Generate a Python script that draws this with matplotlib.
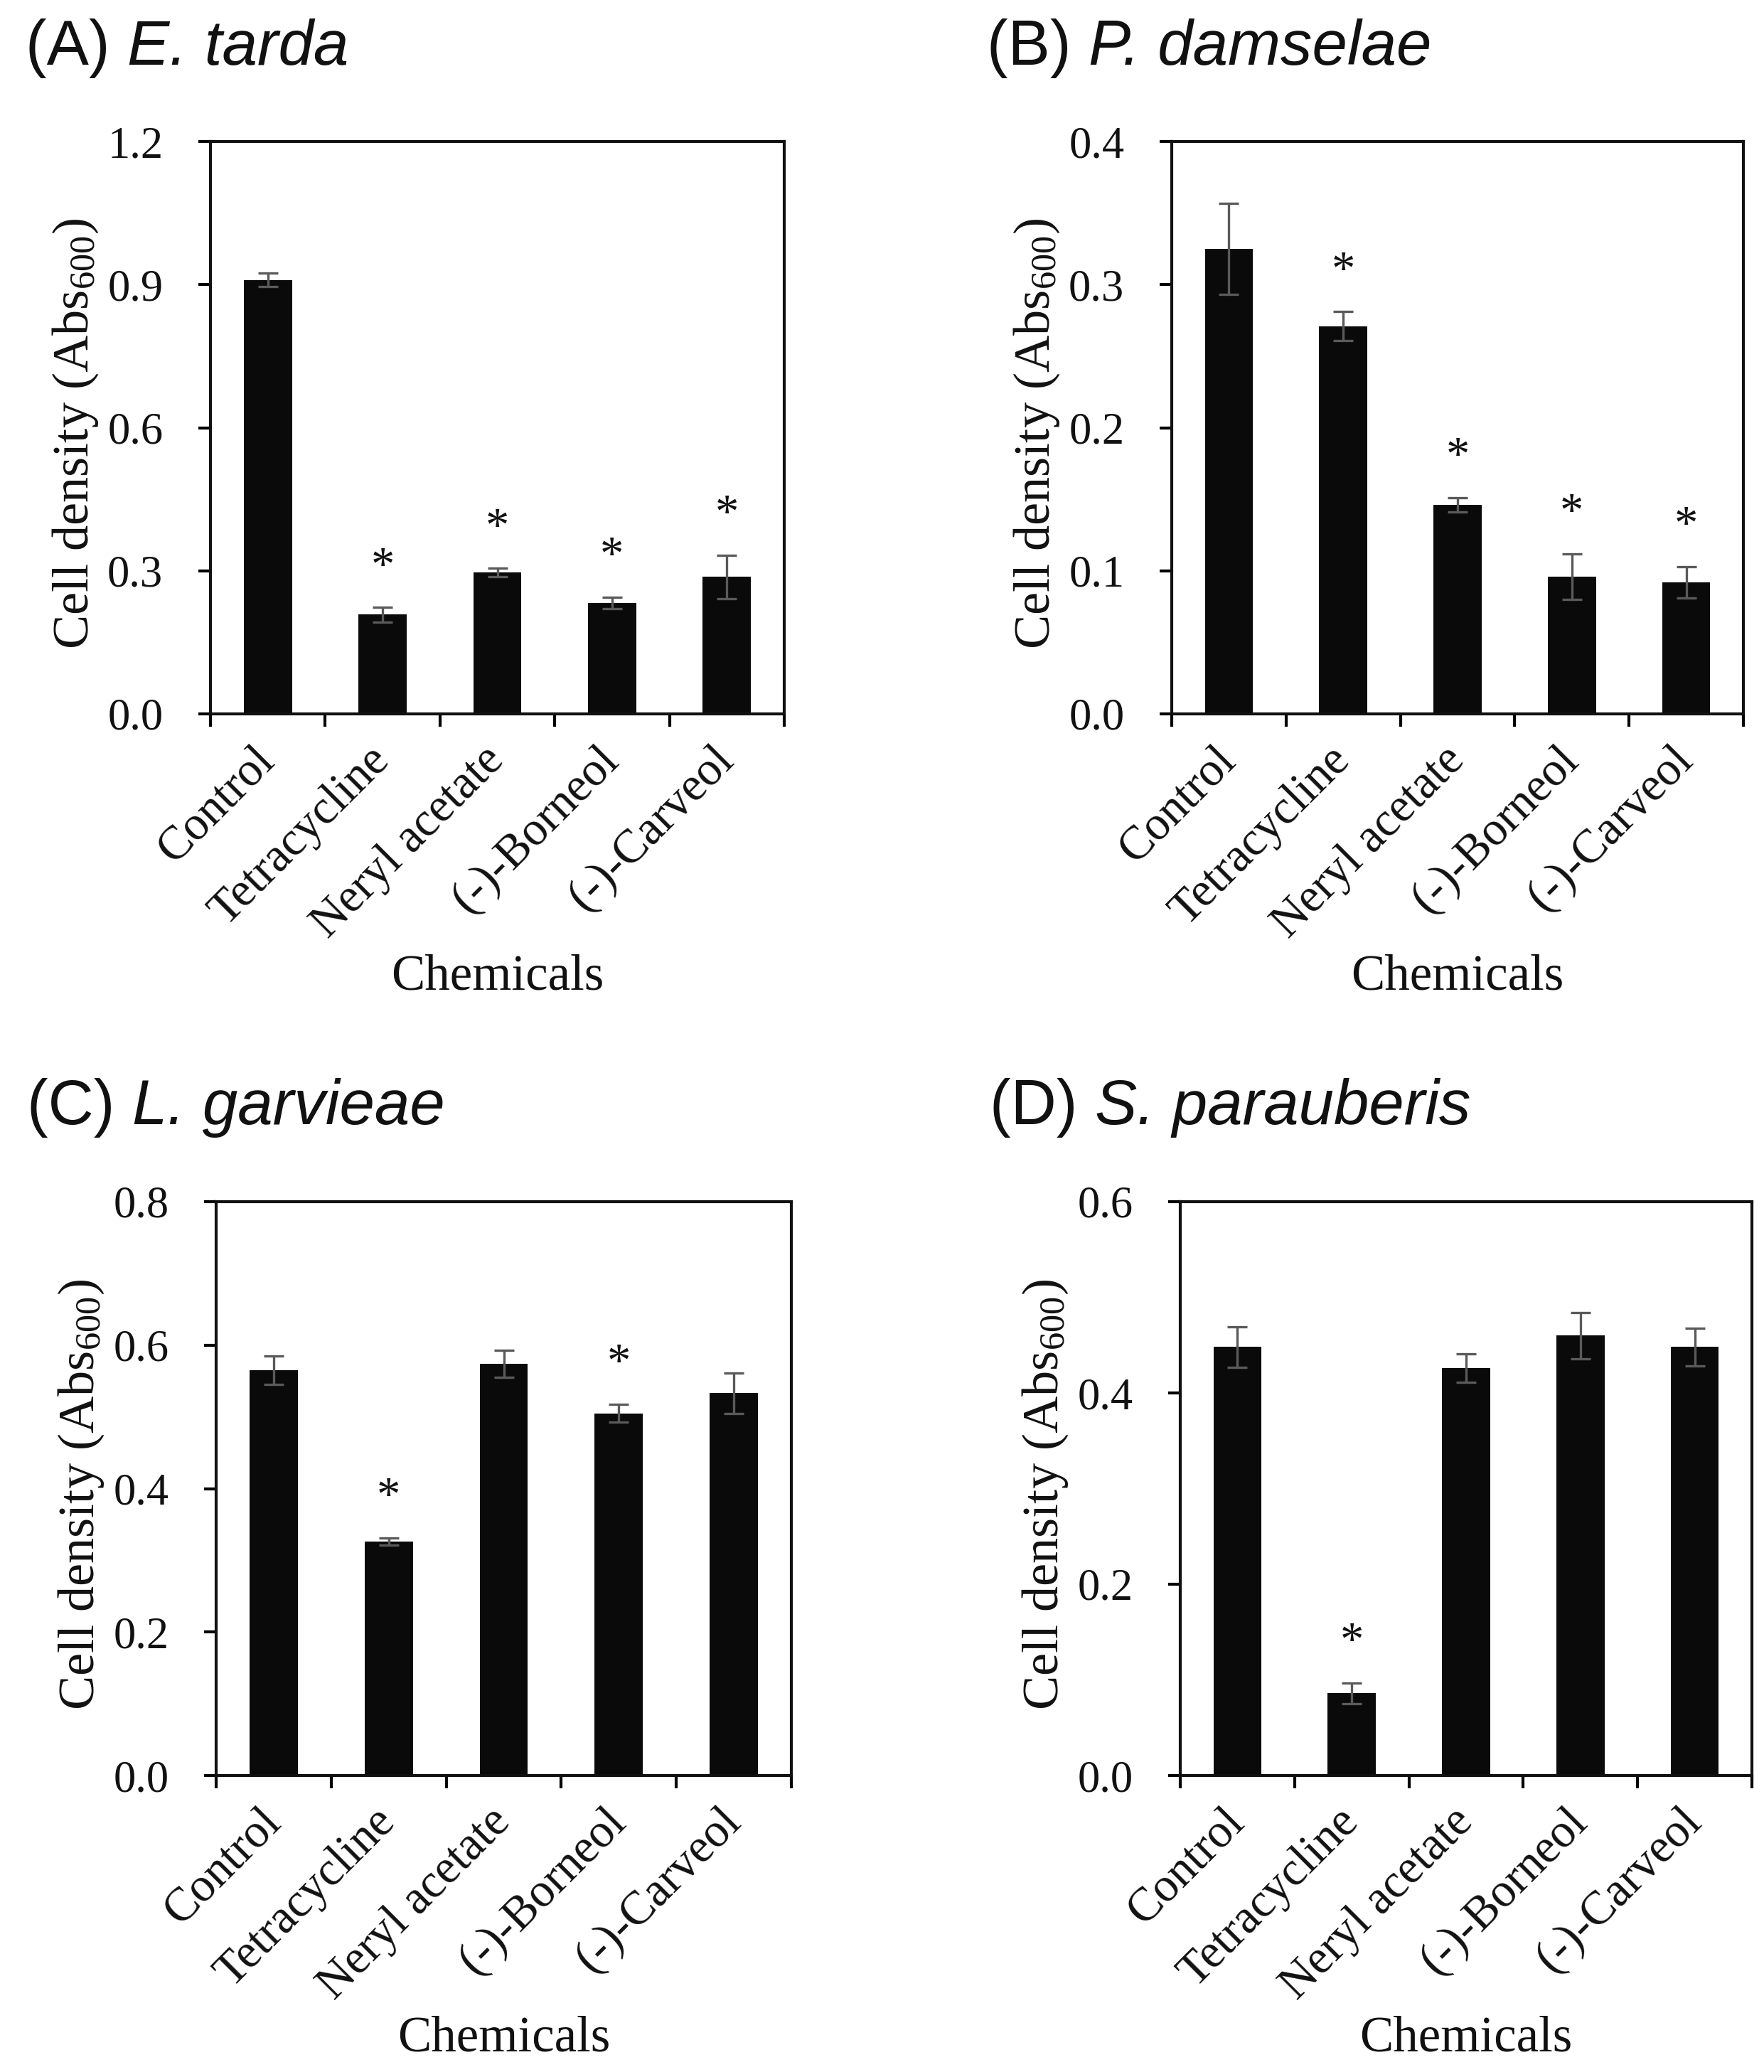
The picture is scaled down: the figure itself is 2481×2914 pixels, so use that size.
import matplotlib
matplotlib.use('Agg')
import matplotlib.pyplot as plt
import numpy as np

plt.rcParams['mathtext.fontset'] = 'custom'
plt.rcParams['mathtext.rm'] = 'Liberation Serif'
plt.rcParams['mathtext.it'] = 'Liberation Serif:italic'
plt.rcParams['mathtext.bf'] = 'Liberation Serif:bold'

# ---------------- data ----------------
categories = ["Control", "Tetracycline", "Neryl acetate", "(-)-Borneol", "(-)-Carveol"]
panel_letters = ["(A)", "(B)", "(C)", "(D)"]
species = ["E. tarda", "P. damselae", "L. garvieae", "S. parauberis"]

a_means = [0.910, 0.208, 0.296, 0.232, 0.287]
a_errs = [0.014, 0.015, 0.009, 0.012, 0.046]
a_sig = [False, True, True, True, True]

b_means = [0.325, 0.271, 0.146, 0.096, 0.092]
b_errs = [0.032, 0.010, 0.005, 0.016, 0.011]
b_sig = [False, True, True, True, True]

c_means = [0.565, 0.326, 0.574, 0.505, 0.533]
c_errs = [0.020, 0.005, 0.019, 0.012, 0.028]
c_sig = [False, True, False, True, False]

d_means = [0.448, 0.086, 0.426, 0.460, 0.448]
d_errs = [0.021, 0.011, 0.015, 0.024, 0.020]
d_sig = [False, True, False, False, False]

y_max = [1.2, 0.4, 0.8, 0.6]
y_step = [0.3, 0.1, 0.2, 0.2]

means = [a_means, b_means, c_means, d_means]
errs = [a_errs, b_errs, c_errs, d_errs]
sigs = [a_sig, b_sig, c_sig, d_sig]

# ---------------- layout ----------------
W, H = 2481, 2914
fig = plt.figure(figsize=(W / 100, H / 100), dpi=100)

# axes boxes in pixels: left, top, right, bottom
boxes = [(296, 199, 1103, 1004), (1648, 199, 2452, 1004),
         (304, 1690, 1113, 2497), (1660, 1690, 2464, 2497)]
title_pos = [(36, 58), (1388, 58), (38, 1549), (1392, 1549)]

SERIF = ['Liberation Serif', 'DejaVu Serif']
SANS = ['Liberation Sans', 'DejaVu Sans']
BAR_COLOR = '#0a0a0a'
ERR_COLOR = '#5a5a5a'
TXT = '#111111'

for i in range(4):
    l, t, r, b = boxes[i]
    ax = fig.add_axes([l / W, 1 - b / H, (r - l) / W, (b - t) / H])
    x = np.arange(len(categories))
    ax.bar(x, means[i], width=0.42, color=BAR_COLOR, zorder=2)
    ax.errorbar(x, means[i], yerr=errs[i], fmt='none', ecolor=ERR_COLOR,
                elinewidth=2.4, capsize=10, capthick=2.4, zorder=3)
    ym = y_max[i]
    for xi, m, e, s in zip(x, means[i], errs[i], sigs[i]):
        if s:
            ax.text(xi, m + e + 0.07 * ym, '*', ha='center', va='center',
                    fontsize=48, family=SERIF, color=TXT, zorder=4)

    ax.set_xlim(-0.5, len(categories) - 0.5)
    ax.set_ylim(0, ym)
    yt = np.arange(0, ym + 1e-9, y_step[i])
    ax.set_yticks(yt)
    ax.set_yticklabels([f"{v:.1f}" for v in yt], family=SERIF, fontsize=45)
    ax.tick_params(axis='y', direction='out', length=12, width=3, pad=36,
                   right=False, labelcolor=TXT)

    ax.set_xticks(x)
    ax.set_xticklabels(categories, rotation=45, ha='right', va='center',
                       rotation_mode='anchor', family=SERIF, fontsize=48,
                       color=TXT)
    ax.set_xticks(np.arange(-0.5, len(categories)), minor=True)
    ax.tick_params(axis='x', which='major', length=0, pad=40)
    ax.tick_params(axis='x', which='minor', direction='out', length=13,
                   width=3, top=False)

    for sp in ax.spines.values():
        sp.set_linewidth(3)
        sp.set_color(TXT)

    ax.set_ylabel(r"Cell density (Abs$_{\mathregular{600}}$)", family=SERIF,
                  fontsize=52, color=TXT)
    ax.yaxis.set_label_coords(-190 / (r - l), 0.49)
    ax.yaxis.label.set_verticalalignment('center')

    ax.set_xlabel("Chemicals", family=SERIF, fontsize=51, color=TXT)
    ax.xaxis.set_label_coords(0.5, -370 / (b - t))
    ax.xaxis.label.set_verticalalignment('center')

    tx, ty = title_pos[i]
    t1 = fig.text(tx / W, 1 - ty / H, panel_letters[i] + " ", family=SANS,
                  fontsize=64, ha='left', va='center_baseline', color=TXT)
    ax.annotate(species[i], xy=(1, 0), xycoords=t1, ha='left', va='bottom',
                family=SANS, style='italic', fontsize=64, color=TXT,
                annotation_clip=False)

fig.savefig('out.png', dpi=100, facecolor='white')
